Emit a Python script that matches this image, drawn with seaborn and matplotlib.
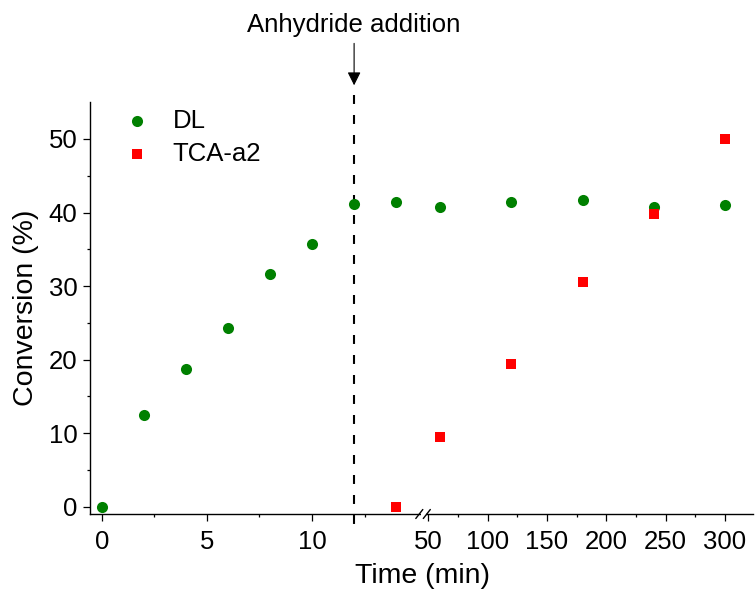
import numpy as np
import matplotlib
matplotlib.use("Agg")
import matplotlib.pyplot as plt
import seaborn as sns
from matplotlib.patches import Rectangle
from matplotlib.lines import Line2D

# ---- data ----
dl_time = [0, 2, 4, 6, 8, 10, 12, 14, 60, 120, 180, 240, 300]
dl_conv = [0.0, 12.5, 18.7, 24.3, 31.6, 35.7, 41.1, 41.4, 40.8, 41.5, 41.7, 40.7, 41.0]
tca_time = [14, 60, 120, 180, 240, 300]
tca_conv = [0.0, 9.5, 19.4, 30.6, 39.8, 50.0]
series_labels = ["DL", "TCA-a2"]
x_major = [0, 5, 10, 50, 100, 150, 200, 250, 300]
x_minor = [2.5, 7.5, 12.5, 75, 125, 175, 225, 275]
y_major = [0, 10, 20, 30, 40, 50]
y_minor = [5, 15, 25, 35, 45]
addition_time = 12
annotation = "Anhydride addition"
xlabel = "Time (min)"
ylabel = "Conversion (%)"

sns.set_theme(style="ticks")
plt.rcParams["font.family"] = ["Liberation Sans", "DejaVu Sans"]
plt.rcParams["text.color"] = "black"
plt.rcParams["axes.labelcolor"] = "black"
plt.rcParams["xtick.color"] = "black"
plt.rcParams["ytick.color"] = "black"

# ---- broken x scale: 0..15 linear, then 44.2.. compressed ----
T1, T2 = 15.1, 44.2
K = 1.1868 / 21.03          # right segment px/unit relative to left
C50 = (428.3 - 101.7) / 21.03
P2 = C50 + (T2 - 50) * K


def fwd(x):
    x = np.asarray(x, dtype=float)
    return np.where(x <= T1, x,
                    np.where(x >= T2, P2 + (x - T2) * K,
                             T1 + (x - T1) * (P2 - T1) / (T2 - T1)))


def inv(u):
    u = np.asarray(u, dtype=float)
    return np.where(u <= T1, u,
                    np.where(u >= P2, T2 + (u - P2) / K,
                             T1 + (u - T1) * (T2 - T1) / (P2 - T1)))


W, H = 755, 590
fig = plt.figure(figsize=(W / 100, H / 100), dpi=100)
ax_l, ax_r, ax_t, ax_b = 90, 753, 101.7, 514
ax = fig.add_axes([ax_l / W, (H - ax_b) / H, (ax_r - ax_l) / W, (ax_b - ax_t) / H])

green = "#008000"
red = "#ff0000"
sns.scatterplot(x=dl_time, y=dl_conv, color=green, marker="o", s=64,
                linewidth=0, label=series_labels[0], ax=ax, zorder=3)
sns.scatterplot(x=tca_time, y=tca_conv, color=red, marker="s", s=48,
                linewidth=0, label=series_labels[1], ax=ax, zorder=3)

ax.set_xscale("function", functions=(fwd, inv))
ax.set_xlim(-0.56, 323.6)
ax.set_ylim(-0.99, 55.07)
ax.set_xticks(x_major)
ax.set_xticks(x_minor, minor=True)
ax.set_xticklabels([str(v) for v in x_major])
ax.set_yticks(y_major)
ax.set_yticks(y_minor, minor=True)

for s in ["top", "right"]:
    ax.spines[s].set_visible(False)
for s in ["left", "bottom"]:
    ax.spines[s].set_linewidth(1.0)
    ax.spines[s].set_color("black")

ax.tick_params(axis="both", which="major", direction="out", length=5, width=0.9,
               labelsize=18.5, colors="black")
ax.tick_params(axis="both", which="minor", direction="out", length=2.5, width=0.9,
               colors="black")
ax.tick_params(axis="y", which="major", pad=4)
ax.tick_params(axis="x", which="major", pad=6.5)

ax.set_xlabel(xlabel, fontsize=20.5)
ax.set_ylabel(ylabel, fontsize=20.5)
ax.yaxis.set_label_coords(-0.077, 0.5)
ax.xaxis.set_label_coords(0.5015, -0.12)
ax.xaxis.label.set_va("top")

# dashed line at addition time
ax.plot([addition_time, addition_time], [56.0, -3.0], color="black", lw=1.5,
        dashes=(4.3, 5.3), clip_on=False, zorder=2)
# arrow + text
ax.annotate("", xy=(addition_time, 57.3), xytext=(addition_time, 63.0),
            arrowprops=dict(arrowstyle="-|>", color="black", lw=0.8,
                            mutation_scale=20, shrinkA=0, shrinkB=0),
            annotation_clip=False)
ax.text(addition_time, 65.5, annotation, ha="center", va="center",
        fontsize=18.5, clip_on=False)

# axis break marks
def fx(px):
    return (px - ax_l) / (ax_r - ax_l)

def fy(py):
    return (ax_b - py) / (ax_b - ax_t)

ax.add_patch(Rectangle((fx(421.5), fy(516)), fx(426) - fx(421.5), fy(512) - fy(516),
                       transform=ax.transAxes, facecolor="white", edgecolor="none",
                       clip_on=False, zorder=4))
for cx in (419.3, 426.8):
    ax.add_line(Line2D([fx(cx - 3.5), fx(cx + 3.5)], [fy(ax_b + 4.5), fy(ax_b - 4.5)],
                       transform=ax.transAxes, color="black", lw=1.0,
                       clip_on=False, zorder=5))

# legend
leg = ax.legend(loc="upper left", bbox_to_anchor=(fx(123.8), fy(109)),
                frameon=False, fontsize=18.5, handlelength=1.0,
                handletextpad=0.9, labelspacing=0.35, borderpad=0,
                borderaxespad=0)

fig.savefig("out.png", dpi=100)
